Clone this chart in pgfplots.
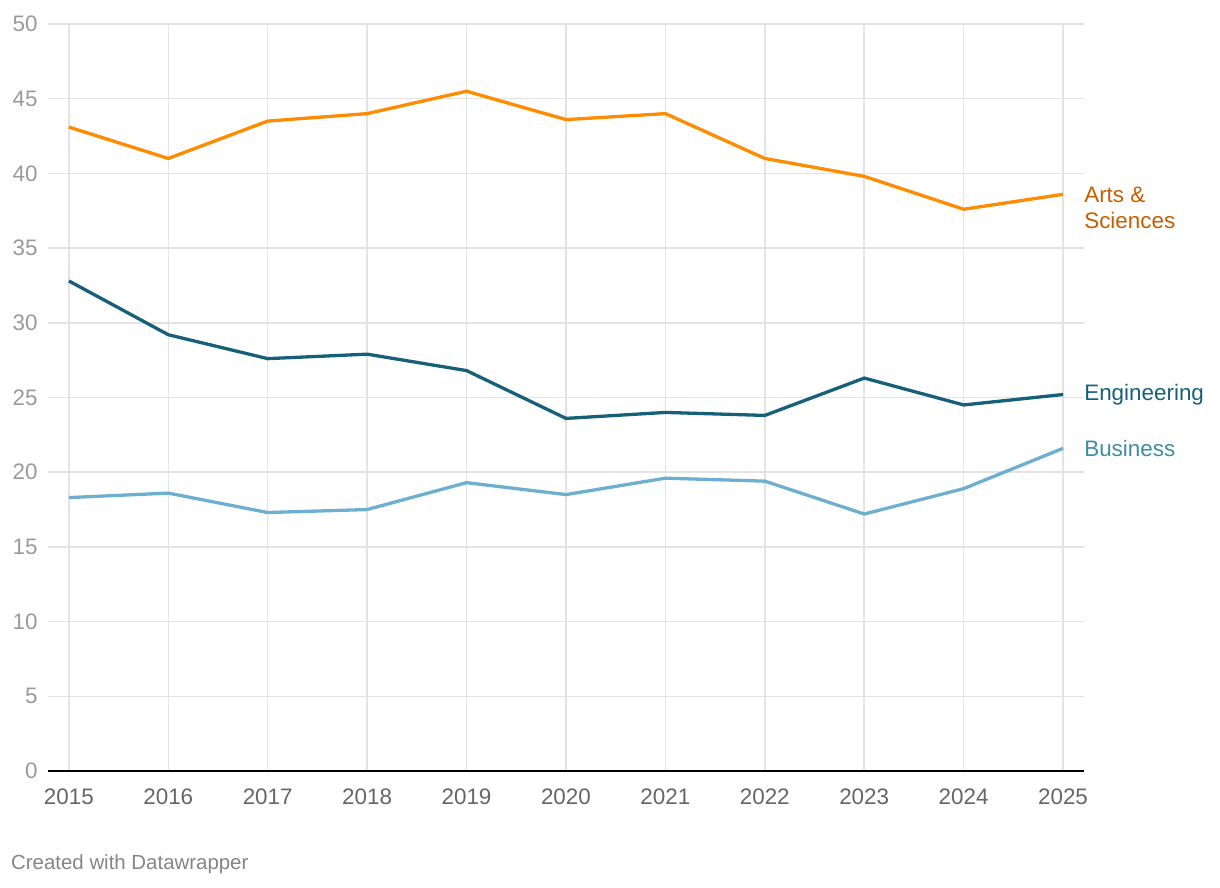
\documentclass[border=0pt]{standalone}
\usepackage{pgfplots}
\pgfplotsset{compat=1.18}
\usepackage{fontspec}
\setmainfont{Liberation Sans}
\definecolor{arts}{HTML}{FF8C00}
\definecolor{artslab}{HTML}{C85D00}
\definecolor{eng}{HTML}{17607A}
\definecolor{bus}{HTML}{6DAFCF}
\definecolor{buslab}{HTML}{3E8BA8}
\definecolor{gridc}{HTML}{E3E3E3}
\definecolor{ylab}{HTML}{9A9A9A}
\definecolor{xlab}{HTML}{666666}
\begin{document}
\begin{tikzpicture}[x=1bp,y=1bp]
\path[use as bounding box] (0,0) rectangle (1220,888);
\begin{axis}[
  at={(48bp,117bp)}, anchor=south west,
  scale only axis, width=1036bp, height=747bp,
  xmin=2014.79, xmax=2025.21, ymin=0, ymax=50,
  xtick={2015,...,2025}, ytick={0,5,...,50},
  /pgf/number format/assume math mode=true,
  xticklabels={2015,2016,2017,2018,2019,2020,2021,2022,2023,2024,2025},
  tick style={draw=none},
  axis line style={draw=none},
  grid=major, major grid style={gridc, line width=1.5bp},
  yticklabel style={font=\fontsize{22.5}{24}\selectfont, text=ylab, anchor=east, xshift=-7bp},
  xticklabel style={font=\fontsize{22.5}{24}\selectfont, text=xlab, yshift=-14bp},
  clip=false,
]
\addplot[arts, line width=3.3bp] coordinates {(2015,43.1)(2016,41.0)(2017,43.5)(2018,44.0)(2019,45.5)(2020,43.6)(2021,44.0)(2022,41.0)(2023,39.8)(2024,37.6)(2025,38.6)};
\addplot[eng, line width=3.3bp] coordinates {(2015,32.8)(2016,29.2)(2017,27.6)(2018,27.9)(2019,26.8)(2020,23.6)(2021,24.0)(2022,23.8)(2023,26.3)(2024,24.5)(2025,25.2)};
\addplot[bus, line width=3.3bp] coordinates {(2015,18.3)(2016,18.6)(2017,17.3)(2018,17.5)(2019,19.3)(2020,18.5)(2021,19.6)(2022,19.4)(2023,17.2)(2024,18.9)(2025,21.6)};
\draw[black, line width=2bp] (axis cs:2014.79,0) -- (axis cs:2025.21,0);
\node[anchor=west, text=artslab, font=\fontsize{22.5}{27}\selectfont, align=left, inner sep=0pt] at ([xshift=21bp,yshift=-13.5bp]axis cs:2025,38.6) {Arts \&\\Sciences};
\node[anchor=west, text=eng, font=\fontsize{22.5}{24}\selectfont, inner sep=0pt] at ([xshift=21bp]axis cs:2025,25.2) {Engineering};
\node[anchor=west, text=buslab, font=\fontsize{22.5}{24}\selectfont, inner sep=0pt] at ([xshift=21bp]axis cs:2025,21.6) {Business};
\end{axis}
\node[anchor=west, text=xlab!80, font=\fontsize{20.5}{22}\selectfont, inner sep=0pt] at (11,24) {Created with Datawrapper};
\end{tikzpicture}
\end{document}
